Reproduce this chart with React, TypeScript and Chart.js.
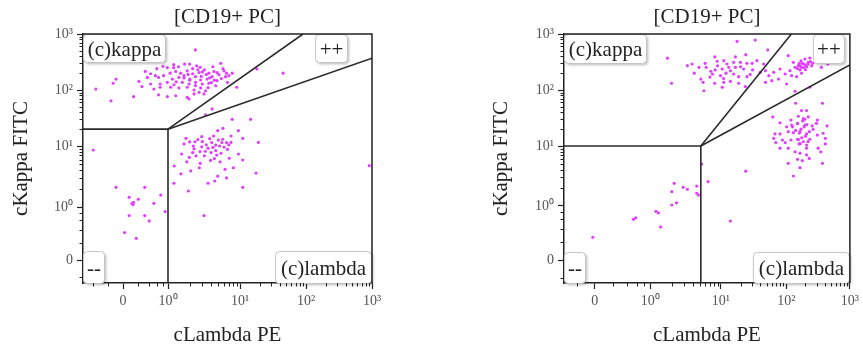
import React, { useEffect, useRef } from 'react';
import { Chart, registerables } from 'chart.js';

Chart.register(...registerables);

// ---------- texts ----------
const TITLE = '[CD19+ PC]';
const X_TITLE = 'cLambda PE';
const Y_TITLE = 'cKappa FITC';
const MAJOR_VALUES = [0, 1, 10, 100, 1000];
const MAJOR_LABELS = ['0', '10⁰', '10¹', '10²', '10³'];
const MINOR_VALUES = [-0.5, -0.2, 0.2, 0.4, 0.6, 0.8, 2, 3, 4, 5, 6, 7, 8, 9, 20, 30, 40, 50, 60, 70, 80, 90, 200, 300, 400, 500, 600, 700, 800, 900];
const QUADRANT_LABELS = ['(c)kappa', '++', '--', '(c)lambda'];

// ---------- data: [cLambda PE, cKappa FITC] ----------
const LEFT_KAPPA_POP: [number, number][] = [
  [2.4, 520], [0.8, 265], [0.97, 250], [1.2, 285], [1.4, 260], [1.7, 290], [2.0, 290], [2.5, 270], [2.8, 255], [5.4, 300],
  [0.33, 215], [0.44, 195], [0.56, 180], [0.82, 180], [1.07, 200], [1.28, 215], [1.5, 200], [1.67, 180], [1.85, 220], [2.2, 195],
  [2.7, 205], [3.2, 228], [3.7, 200], [4.35, 215], [5.1, 188], [6.0, 220], [7.0, 180], [7.8, 200], [0.37, 168], [0.65, 168],
  [1.15, 157], [1.42, 168], [1.67, 164], [2.02, 157], [2.4, 173], [2.84, 151], [3.5, 157], [4.1, 173], [4.8, 147], [6.3, 173],
  [-0.09, 157], [0.22, 143], [0.44, 128], [0.7, 128], [0.97, 137], [1.21, 124], [1.58, 137], [1.96, 128], [2.42, 137], [3.0, 128],
  [3.7, 132], [4.6, 119], [6.7, 137], [-0.13, 132], [0.27, 115], [0.52, 104], [0.7, 112], [1.09, 112], [1.42, 109], [1.85, 112],
  [2.3, 100], [2.84, 109], [3.33, 97], [9.0, 112], [-0.43, 104], [0.14, 76], [0.65, 82], [0.97, 76], [1.28, 79], [1.85, 74],
  [2.3, 85], [2.7, 91], [3.16, 85], [-0.16, 64], [1.96, 69], [18, 237], [45, 200], [4.1, 46], [3.33, 36], [7.8, 30], [14.5, 30],
  [2.2, 240], [2.6, 230], [3.0, 210], [3.4, 190], [2.9, 175], [3.8, 165], [4.4, 150], [4.0, 135], [5.5, 160], [2.0, 150],
  [1.3, 140], [3.6, 110], [4.8, 205], [5.8, 240], [6.5, 200], [2.4, 120], [1.9, 190], [1.2, 250], [0.6, 240], [4.2, 260],
];
const LEFT_LAMBDA_POP: [number, number][] = [
  [5.8, 20.7], [4.9, 18.8], [9.5, 18.8], [1.78, 13.7], [2.94, 14.7], [7.5, 15.1], [11, 13.7], [2.37, 11.9], [4.05, 11.5], [5.0, 12.8],
  [5.75, 13.2], [6.5, 11.5], [7.5, 11.6], [19, 11.6], [1.67, 10.9], [2.25, 10], [2.94, 9.7], [3.6, 9.2], [4.6, 10.4], [6.7, 8.8],
  [1.55, 7.4], [2.2, 7.8], [2.78, 8.1], [3.96, 7.8], [4.6, 8.4], [5.45, 7.6], [9.5, 7.4], [1.98, 6.5], [2.45, 6.9], [3.2, 6.9],
  [4.75, 7.1], [1.82, 5.5], [5.3, 5.5], [7.1, 6.3], [11, 5.9], [1.22, 4.7], [2.72, 4.4], [2.07, 3.9], [6.2, 4.15], [8.1, 4.4],
  [1.51, 3.5], [4.9, 3.2], [6.5, 3.0], [17.5, 3.6], [1.21, 2.45], [3.6, 2.45], [4.45, 2.67], [11, 2.1], [1.92, 1.83], [910, 4.75],
  [4.3, 15.1], [3.16, 0.72],
  [3.0, 12], [3.4, 10.5], [4.2, 9.5], [5.2, 10], [2.6, 13], [3.8, 13.5], [6.0, 9.6], [2.3, 9], [3.3, 8.2], [4.4, 6.2],
  [5.6, 11.5], [2.0, 11.8], [7.0, 10.5], [3.9, 5.8], [2.8, 5.2],
];
const LEFT_NEG_POP: [number, number][] = [
  [-0.09, 2.1], [0.32, 2.1], [0.08, 1.44], [0.21, 1.34], [0.12, 1.15], [0.14, 1.19], [0.13, 1.09], [0.72, 1.57],
  [0.52, 1.15], [0.88, 0.84], [0.08, 0.72], [0.32, 0.72], [0.41, 0.58], [0.02, 0.35], [0.18, 0.26], [-0.49, 8.6],
];

const RIGHT_KAPPA_POP: [number, number][] = [
  [17.7, 740], [33.5, 780], [52, 520], [1.75, 370], [8.2, 390], [16.7, 390], [24, 427], [3.35, 272], [3.9, 291], [4.9, 254],
  [6.2, 254], [8.9, 326], [11.1, 334], [12.4, 291], [15.7, 312], [19.9, 312], [25, 300], [35.5, 334], [45, 291], [7.2, 216],
  [8.3, 228], [10.5, 237], [13.2, 254], [16.7, 254], [22.3, 237], [30.5, 228], [40, 207], [5.2, 157], [7.6, 193], [9.9, 180],
  [15.7, 193], [18.7, 173], [25, 173], [2.0, 132], [5.6, 137], [8.2, 132], [11.1, 137], [14, 143], [18.7, 132], [23.7, 115],
  [5.75, 97], [10.5, 112],
  [12, 200], [6, 300], [9, 270], [14, 220], [20, 260], [28, 190], [4.2, 200], [7, 170], [30, 300], [11, 160],
];
const RIGHT_DOUBLE_POP: [number, number][] = [
  [107, 410], [129, 312], [154, 272], [173, 254], [196, 358], [234, 373], [137, 254], [164, 228], [114, 221], [80, 237],
  [96, 193], [64, 207], [54, 180], [76, 157], [121, 180], [145, 173], [173, 199], [48, 137], [60, 147], [101, 128],
  [48, 221], [234, 112], [137, 95], [450, 291], [356, 254], [221, 312], [164, 272], [185, 291],
  [180, 300], [200, 280], [210, 260], [190, 250], [170, 330], [220, 290], [160, 300], [240, 320], [150, 240], [200, 230],
  [250, 270], [260, 300],
];
const RIGHT_LAMBDA_POP: [number, number][] = [
  [140, 58], [370, 58], [62, 33], [173, 43], [208, 43], [80, 26], [118, 29], [154, 34], [185, 31], [221, 33],
  [308, 29], [101, 22], [121, 23.7], [150, 25.4], [196, 23.7], [255, 22.8], [297, 25.4], [437, 22.8], [67, 16.4], [80, 16.4],
  [107, 18], [129, 17.3], [164, 18], [208, 16.4], [264, 19.9], [308, 15.7], [379, 16.9], [64, 13.7], [87, 12.8], [118, 12.8],
  [150, 13.2], [185, 11.9], [234, 13.2], [411, 13.7], [69, 11.5], [96, 11.5], [158, 10.9], [208, 10.4], [411, 10.9], [80, 9.2],
  [107, 9.2], [208, 9.2], [316, 9.2], [137, 8.0], [164, 7.6], [348, 8.0], [208, 7.1], [150, 6.0], [178, 5.7], [229, 6.2],
  [107, 5.15], [370, 5.15], [164, 4.35], [129, 3.16], [24, 3.8],
  [150, 25], [170, 20], [190, 22], [160, 17], [200, 15], [140, 19], [180, 28], [210, 24], [155, 13], [230, 18],
  [125, 22], [175, 14], [195, 30], [165, 11], [220, 12],
];
const RIGHT_NEG_POP: [number, number][] = [
  [5.35, 5.0], [6.6, 2.54], [4.55, 2.15], [4.55, 1.63], [4.8, 1.52], [2.18, 2.39], [2.92, 2.05], [3.35, 1.9], [2.02, 1.73],
  [2.35, 1.13], [2.02, 1.04], [1.2, 0.82], [1.3, 0.77], [0.53, 0.6], [0.58, 0.64], [1.4, 0.44], [-0.02, 0.27], [14, 0.56],
];

// gates: quadrant corner, and where the two diagonal gate lines leave the plot
const LEFT_GATE = { x: 1, y: 20, upperEndX: 90, lowerEndY: 370 };
const RIGHT_GATE = { x: 5.2, y: 10, upperEndX: 120, lowerEndY: 280 };

// ---------- layout / styling ----------
const FONT = '"Liberation Serif", "Times New Roman", serif';
const DOT = '#e040fb';
const INK = '#222';

type AxisGeom = { p: number[]; lo: number; c: number };
type BoxGeom = { ax: 'left' | 'right'; ay: 'top' | 'bottom'; off: number; w: number; h: number };

function makeTransform(g: AxisGeom) {
  const norm = Math.asinh(1 / g.c);
  const p = g.p;
  return (v: number) => {
    if (v >= 1) {
      const L = Math.log10(v);
      const i = Math.min(2, Math.max(0, Math.floor(L)));
      return p[i + 1] + (L - i) * (p[i + 2] - p[i + 1]);
    }
    return (Math.asinh(v / g.c) / norm) * p[1];
  };
}

type PanelSpec = {
  width: number;
  left: number;
  padRight: number;
  yAxisWidth: number;
  yTitlePad: number;
  xg: AxisGeom;
  yg: AxisGeom;
  pops: [number, number][][];
  gate: { x: number; y: number; upperEndX: number; lowerEndY: number };
  boxes: BoxGeom[];
};

const PANELS: PanelSpec[] = [
  {
    width: 430, left: 0, padRight: 58, yAxisWidth: 83, yTitlePad: 9,
    xg: { p: [0, 45, 117, 183, 249], lo: -40, c: 0.3 },
    yg: { p: [0, 53, 114, 170, 226], lo: -23, c: 0.3 },
    pops: [LEFT_KAPPA_POP, LEFT_LAMBDA_POP, LEFT_NEG_POP],
    gate: LEFT_GATE,
    boxes: [
      { ax: 'left', ay: 'top', off: 0, w: 82, h: 28 },
      { ax: 'right', ay: 'top', off: 25, w: 32, h: 28 },
      { ax: 'left', ay: 'bottom', off: 0, w: 21, h: 32 },
      { ax: 'right', ay: 'bottom', off: 1, w: 96, h: 32 },
    ],
  },
  {
    width: 433, left: 430, padRight: 11, yAxisWidth: 134, yTitlePad: 59,
    xg: { p: [0, 56, 127, 193, 257], lo: -31, c: 0.3 },
    yg: { p: [0, 54, 114, 170, 226], lo: -23, c: 0.3 },
    pops: [RIGHT_KAPPA_POP, RIGHT_DOUBLE_POP, RIGHT_LAMBDA_POP, RIGHT_NEG_POP],
    gate: RIGHT_GATE,
    boxes: [
      { ax: 'left', ay: 'top', off: 0, w: 82, h: 29 },
      { ax: 'right', ay: 'top', off: 6, w: 31, h: 29 },
      { ax: 'left', ay: 'bottom', off: 0, w: 21, h: 31 },
      { ax: 'right', ay: 'bottom', off: 1, w: 96, h: 31 },
    ],
  },
];

function axisOptions(f: (v: number) => number, g: AxisGeom, horizontal: boolean, spec: PanelSpec) {
  return {
    type: 'linear',
    min: g.lo,
    max: g.p[4],
    afterBuildTicks: (s: any) => {
      s.ticks = MAJOR_VALUES.map((v) => ({ value: f(v) }));
    },
    afterFit: (s: any) => {
      if (horizontal) s.height = 66;
      else s.width = spec.yAxisWidth;
    },
    ticks: {
      autoSkip: false,
      maxRotation: 0,
      minRotation: 0,
      padding: horizontal ? 4 : 4,
      color: '#555',
      font: { family: FONT, size: 14 },
      callback: (_v: any, i: number) => MAJOR_LABELS[i],
    },
    grid: { display: true, drawOnChartArea: false, drawTicks: true, tickLength: 6, tickColor: INK, tickWidth: 1.2 },
    border: { display: true, color: INK, width: 1.5 },
    title: {
      display: true,
      text: horizontal ? X_TITLE : Y_TITLE,
      color: INK,
      font: { family: FONT, size: 21, lineHeight: '24px' },
      padding: horizontal ? { top: 0, bottom: 2 } : { top: spec.yTitlePad, bottom: 0 },
    },
  };
}

function buildConfig(spec: PanelSpec): any {
  const fx = makeTransform(spec.xg);
  const fy = makeTransform(spec.yg);
  const xMax = spec.xg.p[4];
  const yMax = spec.yg.p[4];
  const gx = fx(spec.gate.x);
  const gy = fy(spec.gate.y);
  const lineStyle = { showLine: true, borderColor: '#2a2a2a', borderWidth: 1.6, pointRadius: 0, pointHoverRadius: 0, fill: false };

  const gateSets = [
    { ...lineStyle, data: [{ x: spec.xg.lo, y: gy }, { x: gx, y: gy }, { x: gx, y: spec.yg.lo }] },
    { ...lineStyle, data: [{ x: gx, y: gy }, { x: fx(spec.gate.upperEndX), y: yMax }] },
    { ...lineStyle, data: [{ x: gx, y: gy }, { x: xMax, y: fy(spec.gate.lowerEndY) }] },
  ];
  const pointSets = spec.pops.map((pop) => ({
    data: pop.map(([a, b]) => ({ x: fx(a), y: fy(b) })),
    pointRadius: 1.6,
    pointHoverRadius: 1.6,
    pointBackgroundColor: DOT,
    pointBorderWidth: 0,
    showLine: false,
  }));

  const decor = {
    id: 'decor',
    afterDraw(chart: any) {
      const { ctx, chartArea: a, scales } = chart;
      ctx.save();
      ctx.strokeStyle = INK;
      ctx.lineWidth = 1.5;
      ctx.beginPath();
      ctx.moveTo(a.left, a.top);
      ctx.lineTo(a.right, a.top);
      ctx.lineTo(a.right, a.bottom);
      ctx.stroke();
      ctx.lineWidth = 1;
      ctx.beginPath();
      MINOR_VALUES.forEach((v) => {
        const dx = fx(v);
        if (dx >= spec.xg.lo && dx <= xMax) {
          const px = Math.round(scales.x.getPixelForValue(dx)) + 0.5;
          ctx.moveTo(px, a.bottom);
          ctx.lineTo(px, a.bottom + 3.5);
        }
        const dy = fy(v);
        if (dy >= spec.yg.lo && dy <= yMax) {
          const py = Math.round(scales.y.getPixelForValue(dy)) + 0.5;
          ctx.moveTo(a.left, py);
          ctx.lineTo(a.left - 3.5, py);
        }
      });
      ctx.stroke();
      ctx.restore();
    },
  };

  const boxes = {
    id: 'gateBoxes',
    afterDatasetsDraw(chart: any) {
      const { ctx, chartArea: a } = chart;
      spec.boxes.forEach((b, i) => {
        const x = b.ax === 'left' ? a.left + b.off : a.right - b.off - b.w;
        const y = b.ay === 'top' ? a.top : a.bottom - b.h;
        ctx.save();
        ctx.shadowColor = 'rgba(0,0,0,0.28)';
        ctx.shadowBlur = 3;
        ctx.shadowOffsetX = 1.5;
        ctx.shadowOffsetY = 1.5;
        ctx.fillStyle = '#fff';
        ctx.beginPath();
        ctx.roundRect(x + 0.5, y + 0.5, b.w, b.h, 4);
        ctx.fill();
        ctx.shadowColor = 'transparent';
        ctx.strokeStyle = '#c4c4c4';
        ctx.lineWidth = 1;
        ctx.stroke();
        ctx.fillStyle = INK;
        ctx.font = `21px ${FONT}`;
        ctx.textAlign = 'center';
        ctx.textBaseline = 'alphabetic';
        const base = b.ay === 'top' ? y + 22 : y + b.h - 8;
        ctx.fillText(QUADRANT_LABELS[i], x + b.w / 2 + 0.5, base);
        ctx.restore();
      });
    },
  };

  return {
    type: 'scatter',
    data: { datasets: [...gateSets, ...pointSets] },
    options: {
      responsive: false,
      animation: false,
      devicePixelRatio: 1,
      layout: { padding: { left: 0, right: spec.padRight, top: 0, bottom: 0 } },
      plugins: {
        legend: { display: false },
        tooltip: { enabled: false },
        title: {
          display: true,
          text: TITLE,
          fullSize: false,
          color: INK,
          font: { family: FONT, size: 21, weight: 'normal', lineHeight: '24px' },
          padding: { top: 5, bottom: 5 },
        },
      },
      scales: {
        x: axisOptions(fx, spec.xg, true, spec),
        y: axisOptions(fy, spec.yg, false, spec),
      },
    },
    plugins: [decor, boxes],
  };
}

function Panel({ spec }: { spec: PanelSpec }) {
  const ref = useRef<HTMLCanvasElement>(null);
  useEffect(() => {
    const chart = new Chart(ref.current as HTMLCanvasElement, buildConfig(spec));
    return () => chart.destroy();
  }, [spec]);
  return (
    <canvas
      ref={ref}
      width={spec.width}
      height={349}
      style={{ position: 'absolute', left: spec.left, top: 0, width: spec.width, height: 349 }}
    />
  );
}

export default function App() {
  return (
    <div style={{ position: 'absolute', left: 0, top: 0, width: 863, height: 349, background: '#fff', overflow: 'hidden' }}>
      {PANELS.map((p, i) => (
        <Panel key={i} spec={p} />
      ))}
    </div>
  );
}
